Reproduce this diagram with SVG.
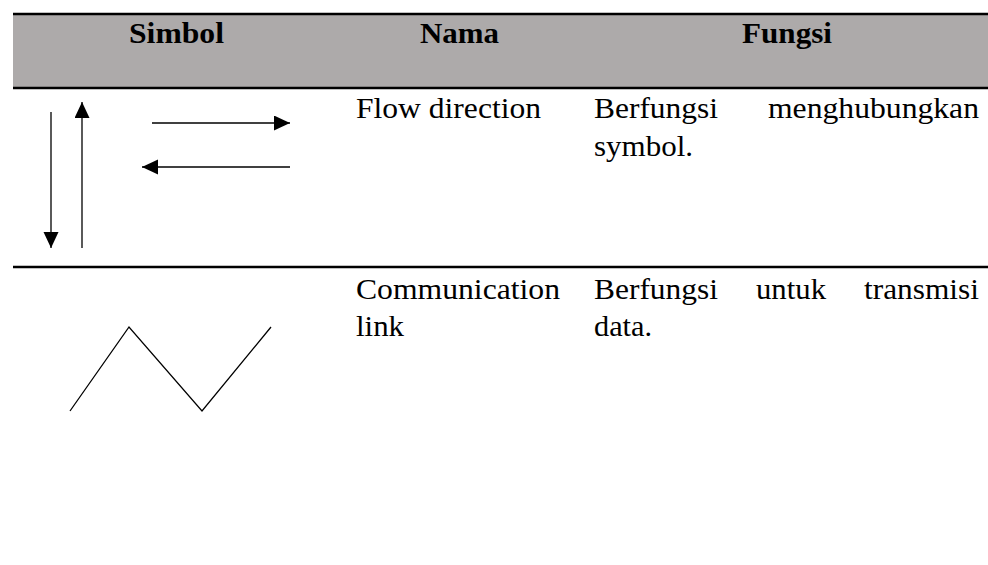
<svg xmlns="http://www.w3.org/2000/svg" width="988" height="565" viewBox="0 0 988 565">
  <style>
    .t { font-size: 29px; fill: #000; }
    .h { font-weight: bold; }
    .rule { stroke: #000; stroke-width: 2.5; }
    .sym { stroke: #000; stroke-width: 1.3; fill: none; }
  </style>
  <defs>
    <marker id="ah" markerUnits="userSpaceOnUse" markerWidth="16" markerHeight="16" refX="16" refY="7.5" orient="auto">
      <path d="M0,0 L16,7.5 L0,15 Z" fill="#000"/>
    </marker>
  </defs>
  <rect width="988" height="565" fill="#fff"/>

  <g id="header" font-family="Liberation Serif, serif">
    <rect x="13" y="14" width="975" height="74" fill="#ADAAAA"/>
    <line class="rule" x1="13" y1="14" x2="988" y2="14"/>
    <line class="rule" x1="13" y1="88" x2="988" y2="88"/>
    <text class="t h" x="129" y="43" textLength="95" lengthAdjust="spacingAndGlyphs">Simbol</text>
    <text class="t h" x="420" y="43" textLength="79" lengthAdjust="spacingAndGlyphs">Nama</text>
    <text class="t h" x="742" y="43" textLength="90" lengthAdjust="spacingAndGlyphs">Fungsi</text>
  </g>

  <g id="row-flow" font-family="Liberation Serif, serif">
    <text class="t" x="356" y="118" textLength="185" lengthAdjust="spacingAndGlyphs">Flow direction</text>
    <text class="t" x="594" y="118" textLength="124" lengthAdjust="spacingAndGlyphs">Berfungsi</text>
    <text class="t" x="768" y="118" textLength="211" lengthAdjust="spacingAndGlyphs">menghubungkan</text>
    <text class="t" x="594" y="156" textLength="99" lengthAdjust="spacingAndGlyphs">symbol.</text>
  </g>

  <line class="rule" x1="13" y1="267" x2="988" y2="267"/>

  <g id="row-link" font-family="Liberation Serif, serif">
    <text class="t" x="356" y="299" textLength="204" lengthAdjust="spacingAndGlyphs">Communication</text>
    <text class="t" x="356" y="336" textLength="48" lengthAdjust="spacingAndGlyphs">link</text>
    <text class="t" x="594" y="299" textLength="124" lengthAdjust="spacingAndGlyphs">Berfungsi</text>
    <text class="t" x="756" y="299" textLength="70" lengthAdjust="spacingAndGlyphs">untuk</text>
    <text class="t" x="864" y="299" textLength="115" lengthAdjust="spacingAndGlyphs">transmisi</text>
    <text class="t" x="594" y="336" textLength="58" lengthAdjust="spacingAndGlyphs">data.</text>
  </g>

  <g id="connectors">
    <line class="sym" x1="51" y1="112" x2="51" y2="248" marker-end="url(#ah)"/>
    <line class="sym" x1="82" y1="248" x2="82" y2="102" marker-end="url(#ah)"/>
    <line class="sym" x1="152" y1="123" x2="290" y2="123" marker-end="url(#ah)"/>
    <line class="sym" x1="290" y1="167" x2="142" y2="167" marker-end="url(#ah)"/>
    <polyline class="sym" points="70,411 129,327 202,411 271,327"/>
  </g>
</svg>
